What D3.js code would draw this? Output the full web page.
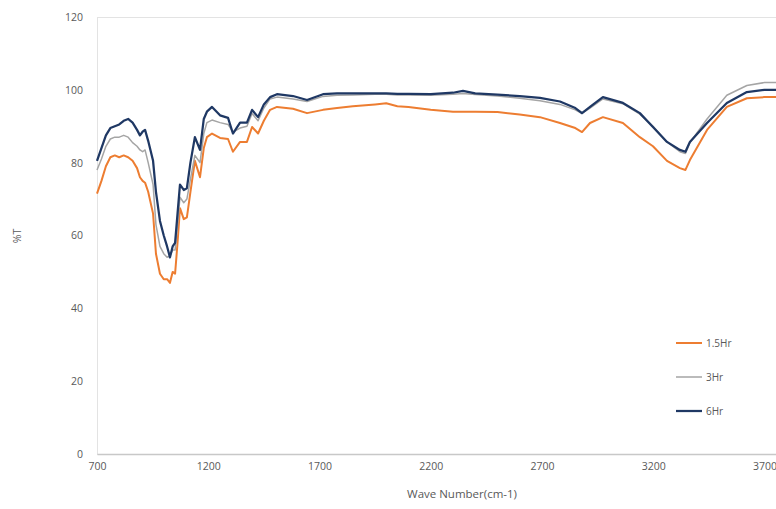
<!DOCTYPE html>
<html>
<head>
<meta charset="utf-8">
<script src="https://cdn.jsdelivr.net/npm/d3@7"></script>
<style>
  body { margin: 0; background: #fff; }
  svg text { font-family: "Open Sans", "Liberation Sans", sans-serif; fill: #595959; }
</style>
</head>
<body>
<div id="chart"></div>
<script>
// --- DATA ---
const waveNumbers = [700, 720, 740, 760, 780, 800, 820, 840, 860, 880, 893, 905, 916, 930, 952, 965, 983, 1000, 1015, 1028,
  1040, 1051, 1062, 1073, 1090, 1104, 1120, 1140, 1163, 1180, 1194, 1217, 1253, 1289, 1311, 1343, 1374, 1397, 1424, 1450,
  1478, 1509, 1581, 1644, 1716, 1779, 1850, 1950, 2000, 2050, 2100, 2200, 2300, 2345, 2400, 2500, 2600, 2691, 2781, 2850,
  2880, 2916, 2974, 3064, 3140, 3199, 3262, 3320, 3345, 3365, 3442, 3531, 3621, 3700, 3752];

const series15 = [71.5, 75, 79, 81.5, 82, 81.5, 82, 81.5, 80.5, 78.5, 76, 75, 74.5, 72, 66, 55, 49.5, 48, 48, 47,
  50, 49.5, 58, 67.5, 64.5, 65, 72, 80.5, 76, 84, 87, 88, 86.8, 86.5, 83, 85.7, 85.7, 89.8, 88, 91.5,
  94.5, 95.3, 94.8, 93.6, 94.5, 95, 95.5, 96, 96.3, 95.5, 95.3, 94.5, 94, 94, 94, 93.9, 93.2, 92.5, 90.9, 89.5,
  88.4, 90.9, 92.5, 90.9, 87, 84.5, 80.5, 78.5, 78, 80.7, 89, 95.3, 97.7, 98, 98];

const series3 = [78, 81, 84.5, 86.5, 87, 87, 87.5, 87, 85.5, 84.5, 83.5, 83, 83.5, 80, 74, 63, 57, 55, 54, 54.5,
  56, 56, 63, 70.5, 69, 70, 75.5, 82, 80, 88, 91, 91.7, 91, 90.5, 88.4, 89.5, 90, 93.5, 91.5, 95,
  97.5, 98, 97.5, 96.8, 98.2, 98.5, 98.6, 98.8, 98.8, 98.6, 98.6, 98.5, 98.8, 99, 98.7, 98.3, 97.7, 97, 96, 94.5,
  93.5, 95, 97.5, 96.2, 93.3, 90, 85.7, 83, 82.5, 85.5, 92, 98.5, 101.2, 102, 102];

const series6 = [80.5, 84, 87.5, 89.5, 90, 90.5, 91.5, 92, 91, 89, 87.5, 88.5, 89, 86, 80.5, 72, 64, 60, 57, 54,
  57, 58, 66, 74, 72.5, 73, 80, 87, 83.5, 92, 94, 95.3, 93, 92.3, 88, 91, 91, 94.5, 92.5, 96,
  98, 98.8, 98.3, 97.2, 98.8, 99, 99, 99, 99, 98.9, 98.9, 98.8, 99.2, 99.7, 99, 98.7, 98.3, 97.8, 96.8, 95,
  93.6, 95.3, 98, 96.4, 93.6, 89.8, 85.7, 83.5, 83, 85.7, 90.9, 96.4, 99.4, 100, 100];

const seriesNames = ['1.5Hr', '3Hr', '6Hr'];
const seriesColors = ['#ED7D31', '#A5A5A5', '#1F3864'];
const seriesWidths = [2, 1.5, 2.25];
const yTicks = [0, 20, 40, 60, 80, 100, 120];
const xTicks = [700, 1200, 1700, 2200, 2700, 3200, 3700];

// --- CHART ---
const W = 776, H = 509;
const margin = {top: 17, right: 0, bottom: 55, left: 97};
const width = W - margin.left - margin.right;
const height = H - margin.top - margin.bottom;

const svg = d3.select('#chart').append('svg')
  .attr('width', W).attr('height', H);

const g = svg.append('g').attr('transform', `translate(${margin.left},${margin.top})`);

const x = d3.scaleLinear().domain([700, 3752]).range([0, width]);
const y = d3.scaleLinear().domain([0, 120]).range([height, 0]);

// plot area border
g.append('rect')
  .attr('x', 0.5).attr('y', 0.5)
  .attr('width', width + 2).attr('height', height)
  .attr('fill', 'none').attr('stroke', '#e3e3e3');

// y axis labels
g.append('g')
  .call(d3.axisLeft(y).tickValues(yTicks).tickSize(0).tickPadding(14))
  .call(a => a.select('.domain').remove())
  .selectAll('text').style('font-size', '10.5px').style('fill', '#595959');

// x axis
const xAxis = g.append('g')
  .attr('transform', `translate(0,${height})`)
  .call(d3.axisBottom(x).tickValues(xTicks).tickSize(0).tickPadding(9).tickFormat(d3.format('d')));
xAxis.select('.domain').attr('stroke', '#c8c8c8').attr('stroke-width', 1.5);
xAxis.selectAll('text').style('font-size', '10.5px').style('fill', '#595959');

// lines
const allSeries = [series15, series3, series6];
const line = d3.line()
  .x((d, i) => x(waveNumbers[i]))
  .y(d => y(d));

allSeries.forEach((s, k) => {
  g.append('path')
    .datum(s)
    .attr('fill', 'none')
    .attr('stroke', seriesColors[k])
    .attr('stroke-width', seriesWidths[k])
    .attr('stroke-linejoin', 'round')
    .attr('d', line);
});

// axis titles
svg.append('text')
  .attr('transform', 'translate(21,236) rotate(-90)')
  .attr('text-anchor', 'middle')
  .style('font-size', '10.5px')
  .text('%T');

svg.append('text')
  .attr('x', 462).attr('y', 498)
  .attr('text-anchor', 'middle')
  .style('font-size', '11.5px')
  .text('Wave Number(cm-1)');

// legend
const legend = svg.append('g').attr('transform', 'translate(676,343)');
seriesNames.forEach((name, k) => {
  const row = legend.append('g').attr('transform', `translate(0,${k * 34})`);
  row.append('line')
    .attr('x1', 0).attr('x2', 26).attr('y1', 0).attr('y2', 0)
    .attr('stroke', seriesColors[k]).attr('stroke-width', seriesWidths[k]);
  row.append('text')
    .attr('x', 30).attr('y', 3.5)
    .style('font-size', '10px')
    .text(name);
});
</script>
</body>
</html>
